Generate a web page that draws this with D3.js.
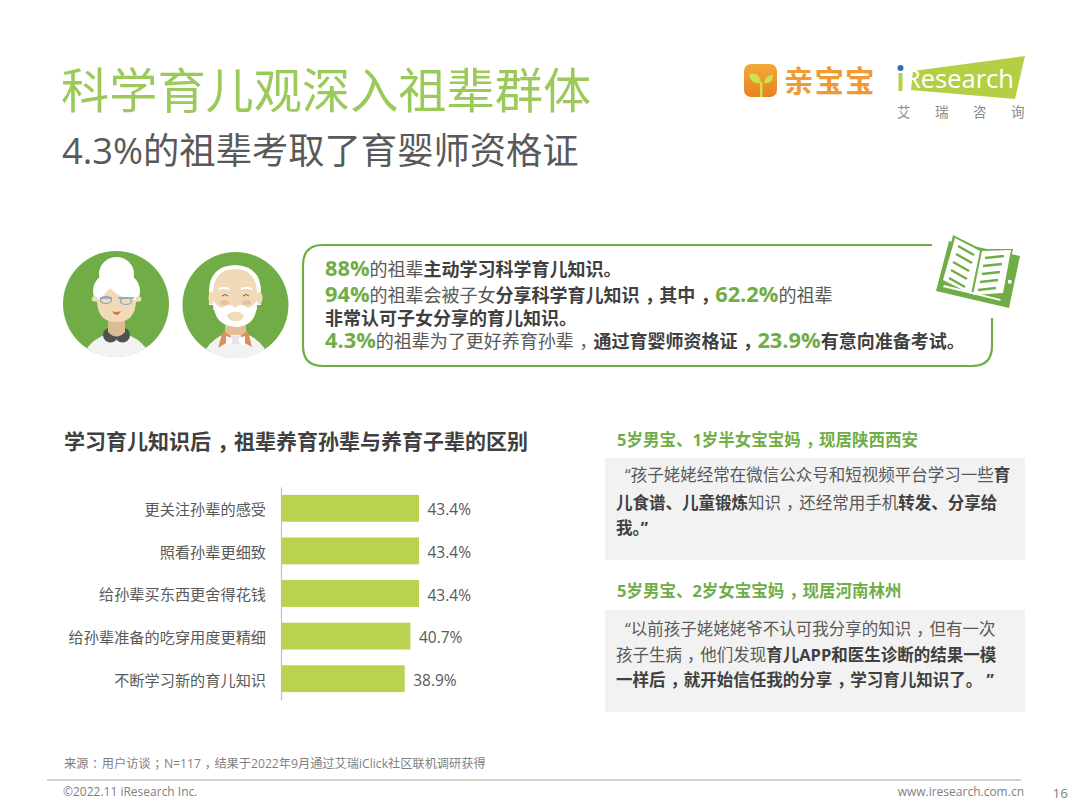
<!DOCTYPE html>
<html><head><meta charset="utf-8">
<script src="https://cdn.jsdelivr.net/npm/d3@7/dist/d3.min.js"></script>
<style>html,body{margin:0;padding:0;background:#fff}svg{display:block}text{font-family:"Open Sans","Noto Sans CJK SC",sans-serif}</style>
</head><body><div id="c"></div>
<script>
const categories=["更关注孙辈的感受","照看孙辈更细致","给孙辈买东西更舍得花钱","给孙辈准备的吃穿用度更精细","不断学习新的育儿知识"];
const values=[43.4,43.4,43.4,40.7,38.9];
const summaryLines=[
 [["88%","g"],["的祖辈",""],["主动学习科学育儿知识。","b"]],
 [["94%","g"],["的祖辈会被子女",""],["分享科学育儿知识，其中，","b"],["62.2%","g"],["的祖辈",""]],
 [["非常认可子女分享的育儿知识。","b"]],
 [["4.3%","g"],["的祖辈为了更好养育孙辈，",""],["通过育婴师资格证，","b"],["23.9%","g"],["有意向准备考试。","b"]]
];
const quoteA=[[["“孩子姥姥经常在微信公众号和短视频平台学习一些",""],["育","b"]],[["儿食谱、儿童锻炼","b"],["知识，还经常用手机",""],["转发、分享给","b"]],[["我。”","b"]]];
const quoteB=[[["“以前孩子姥姥姥爷不认可我分享的知识，但有一次",""]],[["孩子生病，他们发现",""],["育儿APP和医生诊断的结果一模","b"]],[["一样后，就开始信任我的分享，学习育儿知识了。 ”","b"]]];

const svg=d3.select("#c").append("svg").attr("width",1080).attr("height",810);
const G="#70ad47",TXT="#595959",BOLD="#404040";
// full-width commas and colons sit centred in their cell in the reference:
// shift the glyph right and shorten its advance to compensate
function addRuns(el,s,style){
 s.split(/([，：；])/).filter(p=>p).forEach(p=>{
  const sp=el.append("tspan").text(p);
  style(sp);
  if(/[，：；]/.test(p))sp.attr("dx","0.3em").attr("letter-spacing","-0.2em");
 });
}
function t(x,y,s,size,fill,weight,anchor){
 const el=svg.append("text").attr("x",x).attr("y",y).attr("font-size",size).attr("fill",fill).attr("font-weight",weight||400).attr("text-anchor",anchor||"start");
 addRuns(el,s,()=>{});
 return el;
}
function rich(x,y,runs,size,gsize){
 const el=svg.append("text").attr("x",x).attr("y",y).attr("font-size",size).attr("fill",TXT);
 runs.forEach(([s,k])=>addRuns(el,s,sp=>{
  if(k==="g")sp.attr("fill",G).attr("font-weight",700).attr("font-size",gsize||size);
  if(k==="b")sp.attr("font-weight",700).attr("fill",BOLD);
 }));
}
// titles
t(61,108,"科学育儿观深入祖辈群体",48.2,"#9bc95a",400);
t(62,164,"4.3%的祖辈考取了育婴师资格证",36.3,"#595959",400);

// logos
const defs=svg.append("defs");
const lg=defs.append("linearGradient").attr("id","og").attr("x1",0).attr("y1",0).attr("x2",0).attr("y2",1);
lg.append("stop").attr("offset",0).attr("stop-color","#f2a93a");lg.append("stop").attr("offset",1).attr("stop-color","#ea7f22");
svg.append("rect").attr("x",744).attr("y",64).attr("width",33).attr("height",33).attr("rx",7).attr("fill","url(#og)");
svg.append("path").attr("d","M749 74 C756 72 760 75 761 83 C754 84 750 81 749 74Z M764 83 C765 77 768 75 773 75 C773 81 770 84 764 83Z").attr("fill","#cfe04a");
svg.append("rect").attr("x",760).attr("y",82).attr("width",2.5).attr("height",15).attr("fill","#cfe04a");
t(784,92,"亲宝宝",29.5,"#ef9a32",700).attr("letter-spacing",1);
svg.append("path").attr("d","M913 71 L1025 56 L1015 99 L911 90Z").attr("fill","#b5cf45");
svg.append("circle").attr("cx",900.5).attr("cy",68).attr("r",3).attr("fill","#2f6fb0");
svg.append("rect").attr("x",898.5).attr("y",73).attr("width",4).attr("height",18).attr("fill","#b5cf45");
t(905,88,"Research",25.5,"#fff",400);
[["艾",897],["瑞",935],["咨",973],["询",1011]].forEach(([s,x])=>t(x,117,s,13.5,"#8a8a8a"));

// grandmother
const gm=svg.append("g");
gm.append("circle").attr("cx",116).attr("cy",304).attr("r",53).attr("fill",G);
gm.append("path").attr("d","M87 348 Q95 338 107 334 L126 334 Q138 338 146 348 Q132 358 116 357 Q100 358 87 348Z").attr("fill","#f2f2f2");
gm.append("circle").attr("cx",110.5).attr("cy",335).attr("r",7.5).attr("fill","#505050");
gm.append("circle").attr("cx",122.5).attr("cy",335).attr("r",7.5).attr("fill","#505050");
gm.append("path").attr("d","M108 318 H125 V332 Q116.5 341 108 332Z").attr("fill","#d9bc96");
gm.append("ellipse").attr("cx",116.5).attr("cy",274).attr("rx",17.5).attr("ry",17).attr("fill","#fff");
gm.append("ellipse").attr("cx",116.5).attr("cy",291).attr("rx",23.5).attr("ry",20).attr("fill","#fff");
gm.append("circle").attr("cx",94.5).attr("cy",299).attr("r",2.8).attr("fill","#f0dab8");
gm.append("circle").attr("cx",138.5).attr("cy",299).attr("r",2.8).attr("fill","#f0dab8");
gm.append("path").attr("d","M97 300 Q104 296 110 288 Q118 298 136 300 Q136 322 116.500 322 Q97 322 97 300Z").attr("fill","#f0dab8");
gm.append("path").attr("d","M100 298 H112 M118 298 H134").attr("stroke","#7ea6bd").attr("stroke-width",1.6).attr("fill","none");
gm.append("ellipse").attr("cx",106).attr("cy",300).attr("rx",5.5).attr("ry",3.5).attr("fill","none").attr("stroke","#7ea6bd").attr("stroke-width",1.2);
gm.append("ellipse").attr("cx",126).attr("cy",301).attr("rx",5.5).attr("ry",3.5).attr("fill","none").attr("stroke","#7ea6bd").attr("stroke-width",1.2);
gm.append("path").attr("d","M112 311 Q116.5 313 121 311 Q119 315 116.5 315 Q114 315 112 311Z").attr("fill","#d9764a");

// grandfather
const gf=svg.append("g");
gf.append("circle").attr("cx",235.5).attr("cy",305).attr("r",53).attr("fill",G);
gf.append("path").attr("d","M206 349 Q214 337 228 333 L243 333 Q257 337 265 349 Q252 359 235 358 Q219 359 206 349Z").attr("fill","#f2f2f2");
gf.append("rect").attr("x",225).attr("y",320).attr("width",21).attr("height",15).attr("fill","#e3be97");
gf.append("path").attr("d","M223 331 L218 348 L229 341 L231 336 Z M248 331 L252 347 L241 341 L240 336Z").attr("fill","#d98f5e");
gf.append("rect").attr("x",231).attr("y",336).attr("width",10).attr("height",8).attr("fill","#e4e4e4");
gf.append("path").attr("d","M226 336 L232 338 L232 343 L226 345Z M245 336 L239 338 L239 343 L245 345Z").attr("fill","#fff");
gf.append("path").attr("d","M209 292 Q209 266 235 265 Q261 266 261 292 L261 305 L209 305Z").attr("fill","#fff");
gf.append("ellipse").attr("cx",211.5).attr("cy",298).attr("rx",3).attr("ry",6.5).attr("fill","#f0dab8");
gf.append("ellipse").attr("cx",259.5).attr("cy",298).attr("rx",3).attr("ry",6.5).attr("fill","#f0dab8");
gf.append("path").attr("d","M213 295 Q213 269 235 269 Q257 269 257 295 L257 310 L213 310Z").attr("fill","#f0dab8");
gf.append("path").attr("d","M213 300 Q216 306 222 308 Q230 302 235 308 Q241 302 248 308 Q254 306 257 300 Q258 326 236 327 Q213 326 213 300Z").attr("fill","#fff");
gf.append("path").attr("d","M227 315 Q235 308 244 315 Q243 321 235.500 321 Q228 321 227 315Z").attr("fill","#f0dab8");
gf.append("path").attr("d","M219 289 Q224 287 229 289 M241 289 Q246 287 252 289").attr("stroke","#fff").attr("stroke-width",2).attr("fill","none");
gf.append("path").attr("d","M222 296 Q225 293 228 296 M243 296 Q246 293 249 296").attr("stroke","#7a5a40").attr("stroke-width",1).attr("fill","none");
gf.append("ellipse").attr("cx",224.500).attr("cy",302.500).attr("rx",4.500).attr("ry",2.500).attr("fill","#e6c3a4");
gf.append("ellipse").attr("cx",246.500).attr("cy",302.500).attr("rx",4.500).attr("ry",2.500).attr("fill","#e6c3a4");

// summary box: open at the top right and right side, where the book sits
svg.append("path").attr("d","M932 245 H323 Q303 245 303 265 V346 Q303 366 323 366 H972 Q992 366 992 346 V318")
 .attr("fill","none").attr("stroke",G).attr("stroke-width",2.2);
summaryLines.forEach((l,i)=>rich(325,[276,302,325,348][i],l,18,21.800));

// book
const bk=svg.append("g").attr("fill",G);
bk.append("path").attr("d","M949 241 L1020 256 L1009 308 L936 291Z").attr("fill",G);
bk.append("path").attr("d","M953 235 L981 249 L1013 249 L1003 296 L971 297 L944 289 L942 286Z").attr("fill",G);
bk.append("path").attr("d","M955 238 L980 251 L971 294 L943 280Z").attr("fill","#fff");
bk.append("path").attr("d","M982 251 L1011 250 L1003 293 L973 295Z").attr("fill","#fff");
bk.append("path").attr("d","M958 246 L974 255 M956 254 L972 263 M953 262 L969 271 M951 270 L967 279 M949 278 L965 287 M985 258 L1004 256 M983 266 L1002 264 M982 274 L1000 272 M980 282 L998 280 M978 290 L996 288")
 .attr("stroke",G).attr("stroke-width",2.4).attr("fill","none");
bk.append("rect").attr("x",1008).attr("y",280).attr("width",3.5).attr("height",3.5).attr("fill","#fff");
bk.append("path").attr("d","M943 287 L1001 301 L1000 299 L944 285Z").attr("fill","#fff");

// chart
t(64,449,"学习育儿知识后，祖辈养育孙辈与养育子辈的区别",21,BOLD,700);
const x=d3.scaleLinear().domain([0,43.4]).range([281,419]);
const y=d3.scaleBand().domain(categories).range([487,700]).paddingInner(0.37).paddingOuter(0.185);
const data=categories.map((c,i)=>({c,v:values[i]}));
svg.append("g").selectAll("rect").data(data).join("rect")
 .attr("x",x(0)).attr("y",d=>y(d.c)).attr("width",d=>x(d.v)-x(0)).attr("height",y.bandwidth()).attr("fill","#b9d24f");
svg.append("g").selectAll("text").data(data).join("text")
 .attr("x",d=>x(d.v)+8.500).attr("y",d=>y(d.c)+y.bandwidth()/2+7).text(d=>d.v.toFixed(1)+"%")
 .attr("font-size",15.500).attr("fill","#595959");
const yAxis=d3.axisLeft(y).tickSize(0).tickPadding(15);
const ag=svg.append("g").attr("transform","translate(281,0)").call(yAxis);
ag.select(".domain").attr("stroke","#bfbfbf").attr("stroke-width",1.2);
ag.selectAll("text").attr("font-size",15.200).attr("fill","#595959").attr("dy","0.45em").style("font-family",'"Noto Sans CJK SC"');

// quotes
t(617,446,"5岁男宝、1岁半女宝宝妈，现居陕西西安",16.500,G,700);
svg.append("rect").attr("x",605).attr("y",458).attr("width",420).attr("height",102).attr("fill","#f2f2f2");
quoteA.forEach((l,i)=>rich(i===0?625:616,[481,509,534][i],l,16.500));
t(617,597,"5岁男宝、2岁女宝宝妈，现居河南林州",16.500,G,700);
svg.append("rect").attr("x",605).attr("y",610).attr("width",420).attr("height",102).attr("fill","#f2f2f2");
quoteB.forEach((l,i)=>rich(i===0?625:616,[635,661,686][i],l,16.500));

// footer
t(64,768,"来源：用户访谈；N=117，结果于2022年9月通过艾瑞iClick社区联机调研获得",12.200,"#7f7f7f");
svg.append("line").attr("x1",47).attr("x2",1021).attr("y1",780).attr("y2",780).attr("stroke","#a6a6a6").attr("stroke-width",1.2);
t(63,796,"©2022.11 iResearch Inc.",12,"#7f7f7f");
t(1024,796,"www.iresearch.com.cn",12,"#7f7f7f",400,"end");
t(1068,798,"16",13.500,"#7f7f7f",400,"end");
</script></body></html>
